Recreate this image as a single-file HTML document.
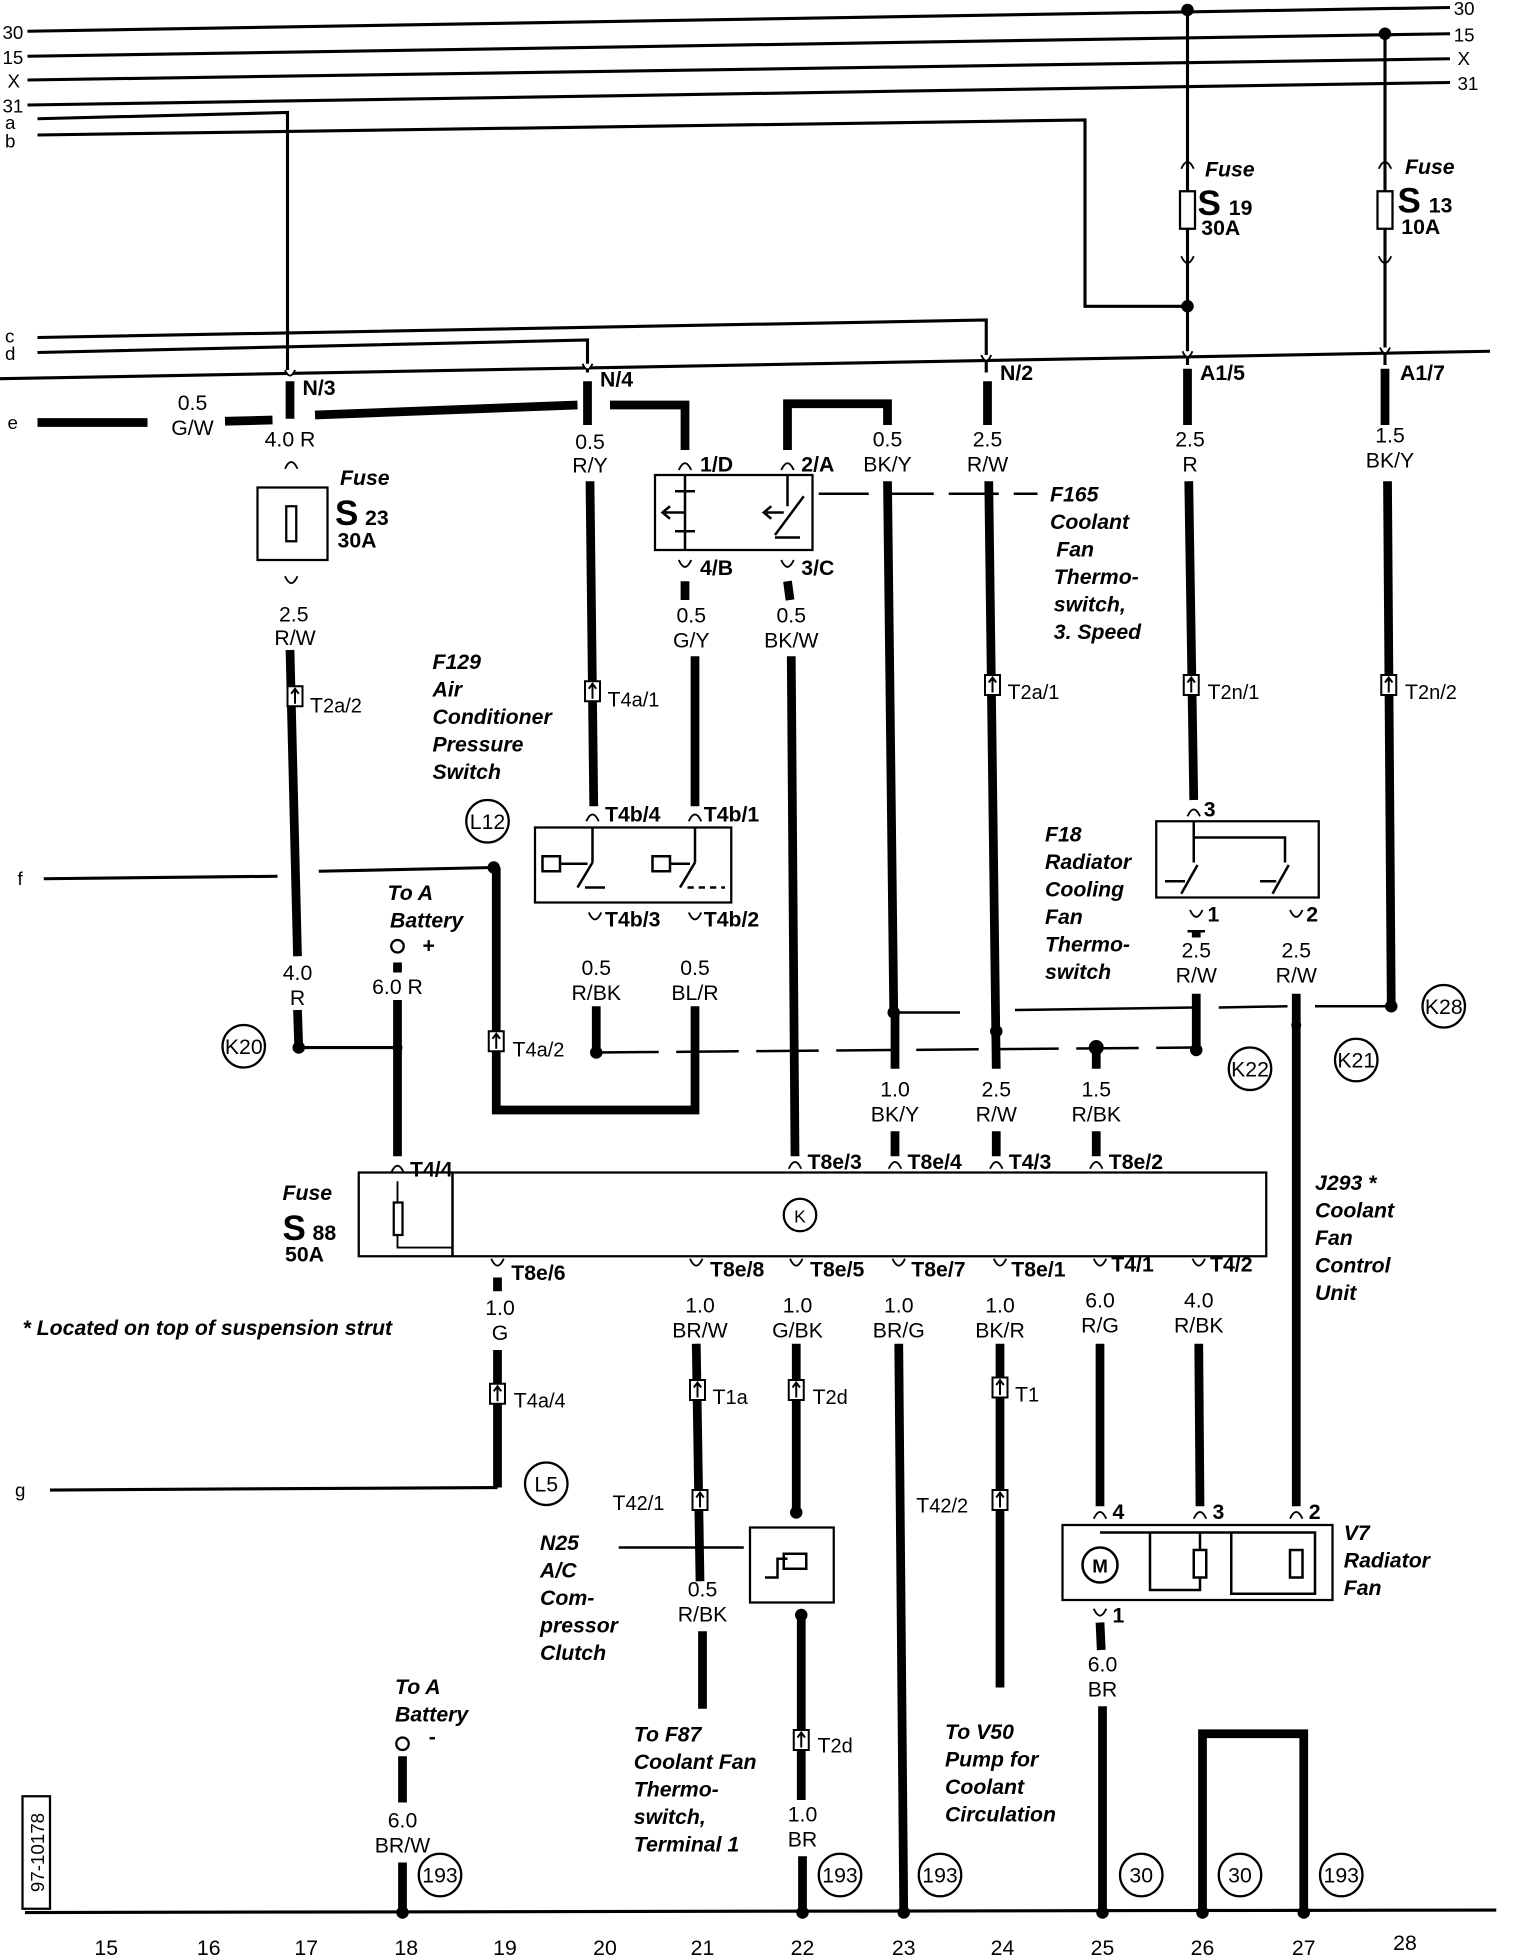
<!DOCTYPE html>
<html><head><meta charset="utf-8"><style>
html,body{margin:0;padding:0;background:#fff}
svg{display:block}
text{font-family:"Liberation Sans",sans-serif;font-size:17px;fill:#000}
.c{text-anchor:middle}
.i{font-style:italic;font-weight:bold;font-size:17px}
.b{font-weight:bold}
</style></head><body>
<svg width="1520" height="1956" viewBox="0 0 1216 1564.8" preserveAspectRatio="none" xmlns="http://www.w3.org/2000/svg">
<defs>
<g id="cn"><rect x="-6" y="-8" width="12" height="16" fill="#fff" stroke="#000" stroke-width="1.6"/><path d="M0,6 V-5 M-3,-2 L0,-6 L3,-2" stroke="#000" stroke-width="1.6" fill="none"/></g>
<g id="pin"><path d="M-4,-5 Q0,4 4,-5" stroke="#000" stroke-width="1.5" fill="#fff"/></g>
<g id="au"><path d="M-5,5 Q0,-6 5,5" stroke="#000" stroke-width="1.5" fill="none"/></g>
<g id="ad"><path d="M-5,-5 Q0,6 5,-5" stroke="#000" stroke-width="1.5" fill="none"/></g>
</defs>
<g stroke="#000" fill="none" stroke-width="2.5">
<!-- top bus -->
<line x1="22" y1="25" x2="1160" y2="6"/>
<line x1="22" y1="45" x2="1160" y2="27"/>
<line x1="22" y1="64" x2="1160" y2="47"/>
<line x1="22" y1="84" x2="1160" y2="66"/>
<polyline points="30,95 230,90 230,298"/>
<polyline points="30,108 868,96 868,245 950,245"/>
<line x1="950" y1="8" x2="950" y2="292"/>
<line x1="1108" y1="27" x2="1108" y2="292"/>
<polyline points="30,270 789,256 789,298"/>
<polyline points="30,282 470,272 470,298"/>
<line x1="0" y1="303" x2="1192" y2="281"/>
<!-- f,g -->
<line x1="35" y1="703" x2="222" y2="701"/>
<line x1="255" y1="697" x2="395" y2="694"/>
<line x1="40" y1="1192" x2="398" y2="1190"/>
<line x1="240" y1="838" x2="318" y2="838"/>
<line x1="20" y1="1530" x2="1197" y2="1528"/>
<!-- dashed / thin cross lines -->
<line x1="655" y1="395" x2="830" y2="395" stroke-dasharray="40,12" stroke-width="2"/>
<line x1="477" y1="842" x2="955" y2="838" stroke-dasharray="50,14" stroke-width="2"/>
<line x1="715" y1="810" x2="768" y2="810" stroke-width="2"/>
<line x1="812" y1="808" x2="955" y2="806" stroke-width="2"/>
<line x1="975" y1="806" x2="1030" y2="805" stroke-width="2"/>
<line x1="1052" y1="805" x2="1113" y2="805" stroke-width="2"/>
<line x1="495" y1="1238" x2="595" y2="1238" stroke-width="2"/>
</g>
<!-- thick wires -->
<g stroke="#000" fill="none" stroke-width="7">
<line x1="30" y1="338" x2="118" y2="338"/>
<line x1="180" y1="337" x2="218" y2="336"/>
<line x1="252" y1="332" x2="462" y2="324"/>
<polyline points="488,324 548,324 548,360"/>
<polyline points="630,360 630,323 710,323 710,340"/>
<line x1="232" y1="305" x2="232" y2="335"/>
<line x1="232" y1="520" x2="238" y2="765"/>
<line x1="238" y1="808" x2="239" y2="838"/>
<line x1="470" y1="305" x2="470" y2="340"/>
<line x1="472" y1="385" x2="475" y2="645"/>
<line x1="548" y1="465" x2="548" y2="480"/>
<line x1="556" y1="525" x2="556" y2="645"/>
<line x1="630" y1="465" x2="632" y2="480"/>
<line x1="633" y1="525" x2="636" y2="925"/>
<line x1="710" y1="385" x2="715" y2="810"/>
<line x1="716" y1="810" x2="716" y2="855"/>
<line x1="716" y1="905" x2="716" y2="925"/>
<line x1="790" y1="305" x2="790" y2="340"/>
<line x1="791" y1="385" x2="797" y2="855"/>
<line x1="797" y1="905" x2="797" y2="925"/>
<line x1="877" y1="838" x2="877" y2="855"/>
<line x1="877" y1="905" x2="877" y2="925"/>
<line x1="950" y1="295" x2="950" y2="340"/>
<line x1="951" y1="385" x2="955" y2="640"/>
<line x1="957" y1="745" x2="957" y2="750"/>
<line x1="957" y1="795" x2="957" y2="840"/>
<line x1="1037" y1="795" x2="1037" y2="1205"/>
<line x1="1108" y1="295" x2="1108" y2="340"/>
<line x1="1110" y1="385" x2="1113" y2="805"/>
<line x1="477" y1="805" x2="477" y2="842"/>
<polyline points="556,805 556,888 397,888 397,694"/>
<line x1="318" y1="770" x2="318" y2="778"/>
<line x1="318" y1="800" x2="318" y2="925"/>
<line x1="398" y1="1080" x2="398" y2="1190"/>
<line x1="398" y1="1022" x2="398" y2="1033"/>
<line x1="557" y1="1075" x2="560" y2="1265"/>
<line x1="562" y1="1305" x2="562" y2="1367"/>
<line x1="637" y1="1075" x2="637" y2="1210"/>
<line x1="641" y1="1292" x2="641" y2="1440"/>
<line x1="642" y1="1485" x2="642" y2="1530"/>
<line x1="719" y1="1075" x2="723" y2="1530"/>
<line x1="800" y1="1075" x2="800" y2="1350"/>
<line x1="880" y1="1075" x2="880" y2="1205"/>
<line x1="880" y1="1298" x2="881" y2="1320"/>
<line x1="882" y1="1365" x2="882" y2="1530"/>
<line x1="959" y1="1075" x2="960" y2="1205"/>
<line x1="322" y1="1405" x2="322" y2="1442"/>
<line x1="322" y1="1490" x2="322" y2="1530"/>
<polyline points="962,1530 962,1387 1043,1387 1043,1530"/>
</g>
<!-- dots -->
<g fill="#000">
<circle cx="950" cy="8" r="5"/><circle cx="1108" cy="27" r="5"/><circle cx="950" cy="245" r="5"/>
<circle cx="395" cy="694" r="5"/><circle cx="239" cy="838" r="5"/><circle cx="318" cy="838" r="4"/>
<circle cx="477" cy="842" r="5"/><circle cx="715" cy="810" r="5"/><circle cx="797" cy="825" r="5"/>
<circle cx="877" cy="838" r="6"/><circle cx="957" cy="840" r="5"/><circle cx="1037" cy="820" r="4"/>
<circle cx="1113" cy="805" r="5"/><circle cx="637" cy="1210" r="5"/><circle cx="641" cy="1292" r="5"/>
<circle cx="322" cy="1530" r="5"/><circle cx="642" cy="1530" r="5"/><circle cx="723" cy="1530" r="5"/>
<circle cx="882" cy="1530" r="5"/><circle cx="962" cy="1530" r="5"/><circle cx="1043" cy="1530" r="5"/>
<circle cx="880" cy="1226" r="3"/><circle cx="960" cy="1226" r="3"/>
</g>
<!-- pins on connector -->
<use href="#pin" x="232" y="301"/><use href="#pin" x="470" y="296"/><use href="#pin" x="789" y="289"/>
<use href="#pin" x="950" y="286"/><use href="#pin" x="1108" y="283"/>
<!-- fuses -->
<g stroke="#000" fill="#fff" stroke-width="1.8">
<rect x="944" y="153" width="12" height="30"/><rect x="1102" y="153" width="12" height="30"/>
<rect x="206" y="390" width="56" height="58"/><rect x="229" y="405" width="8" height="28"/>
<rect x="524" y="380" width="126" height="60"/>
<rect x="428" y="662" width="157" height="60"/>
<rect x="925" y="657" width="130" height="61"/>
<rect x="287" y="938" width="726" height="67"/>
<rect x="600" y="1222" width="67" height="60"/>
<rect x="850" y="1220" width="216" height="60"/>
<rect x="315" y="962" width="7" height="26"/>
<circle cx="318" cy="757" r="5"/><circle cx="322" cy="1395" r="5"/>
</g>
<line x1="362" y1="938" x2="362" y2="1005" stroke="#000" stroke-width="2"/>
<polyline points="318,945 318,962 M318,988" stroke="#000" fill="none" stroke-width="1.5"/>
<polyline points="318,988 318,998 362,998" stroke="#000" fill="none" stroke-width="1.5"/>
<use href="#au" x="950" y="130"/><use href="#ad" x="950" y="210"/>
<use href="#au" x="1108" y="130"/><use href="#ad" x="1108" y="210"/>
<use href="#au" x="233" y="370"/><use href="#ad" x="233" y="466"/>
<use href="#au" x="548" y="371"/><use href="#au" x="630" y="371"/>
<use href="#ad" x="548" y="453"/><use href="#ad" x="630" y="453"/>
<use href="#au" x="474" y="652"/><use href="#au" x="556" y="652"/>
<use href="#ad" x="476" y="735"/><use href="#ad" x="556" y="735"/>
<use href="#au" x="955" y="648"/><use href="#ad" x="957" y="733"/><use href="#ad" x="1037" y="733"/>
<use href="#au" x="636" y="930"/><use href="#au" x="716" y="930"/><use href="#au" x="797" y="930"/><use href="#au" x="877" y="930"/><use href="#au" x="318" y="933"/>
<use href="#ad" x="398" y="1012"/><use href="#ad" x="557" y="1012"/><use href="#ad" x="637" y="1012"/><use href="#ad" x="719" y="1012"/><use href="#ad" x="800" y="1012"/><use href="#ad" x="880" y="1012"/><use href="#ad" x="959" y="1012"/>
<use href="#au" x="880" y="1210"/><use href="#au" x="960" y="1210"/><use href="#au" x="1037" y="1210"/><use href="#ad" x="880" y="1292"/>
<!-- switch internals (simplified) -->
<g stroke="#000" fill="none" stroke-width="2">
<line x1="548" y1="380" x2="548" y2="440"/><line x1="630" y1="380" x2="630" y2="405"/><line x1="620" y1="428" x2="643" y2="397"/>
<line x1="620" y1="430" x2="640" y2="430"/><line x1="540" y1="393" x2="556" y2="393"/><line x1="540" y1="425" x2="556" y2="425"/>
<path d="M548,410 H532 M536,405 L530,410 L536,415"/><path d="M627,410 H613 M617,405 L611,410 L617,415"/>
<line x1="474" y1="662" x2="474" y2="690"/><line x1="474" y1="690" x2="462" y2="710"/><line x1="556" y1="662" x2="556" y2="690"/><line x1="556" y1="690" x2="544" y2="710"/>
<rect x="434" y="685" width="14" height="12"/><rect x="522" y="685" width="14" height="12"/>
<line x1="448" y1="691" x2="470" y2="691"/><line x1="536" y1="691" x2="552" y2="691"/>
<line x1="468" y1="710" x2="484" y2="710"/><line x1="550" y1="710" x2="580" y2="710" stroke-dasharray="5,4"/>
<polyline points="955,657 955,690"/><polyline points="955,670 1028,670 1028,690"/>
<line x1="958" y1="692" x2="945" y2="715"/><line x1="1031" y1="692" x2="1018" y2="715"/>
<line x1="948" y1="705" x2="932" y2="705"/><line x1="1021" y1="705" x2="1008" y2="705"/>
<line x1="950" y1="745" x2="964" y2="745"/>
<circle cx="880" cy="1252" r="14" fill="#fff"/>
<polyline points="880,1226 1052,1226 1052,1275 985,1275 985,1226"/>
<polyline points="960,1226 960,1240"/><rect x="955" y="1240" width="10" height="22"/><polyline points="960,1262 960,1272 920,1272 920,1226"/>
<rect x="1032" y="1240" width="10" height="22"/>
<rect x="627" y="1243" width="18" height="12"/><path d="M612,1262 h10 v-15 h8"/>
</g>
<text x="880" y="1258" class="c b" style="font-size:15px">M</text>
<!-- connectors -->
<use href="#cn" x="236" y="557"/><use href="#cn" x="474" y="553"/><use href="#cn" x="794" y="548"/><use href="#cn" x="953" y="548"/><use href="#cn" x="1111" y="548"/>
<use href="#cn" x="397" y="833"/><use href="#cn" x="398" y="1115"/><use href="#cn" x="558" y="1112"/><use href="#cn" x="637" y="1112"/><use href="#cn" x="800" y="1110"/>
<use href="#cn" x="560" y="1200"/><use href="#cn" x="800" y="1200"/><use href="#cn" x="641" y="1392"/>
<!-- circles -->
<g stroke="#000" fill="#fff" stroke-width="1.8">
<circle cx="390" cy="657" r="17"/><circle cx="195" cy="837" r="17"/><circle cx="1000" cy="855" r="17"/><circle cx="1085" cy="848" r="17"/><circle cx="1155" cy="805" r="17"/>
<circle cx="640" cy="972" r="13"/><circle cx="437" cy="1187" r="17"/>
<circle cx="352" cy="1500" r="17"/><circle cx="672" cy="1500" r="17"/><circle cx="752" cy="1500" r="17"/><circle cx="913" cy="1500" r="17"/><circle cx="992" cy="1500" r="17"/><circle cx="1073" cy="1500" r="17"/>
<rect x="18" y="1437" width="22" height="90"/>
</g>
<g style="font-size:15px" class="c">
<text x="390" y="663">L12</text><text x="195" y="843">K20</text><text x="1000" y="861">K22</text><text x="1085" y="854">K21</text><text x="1155" y="811">K28</text>
<text x="640" y="978" style="font-size:14px">K</text><text x="437" y="1193">L5</text>
<text x="352" y="1506">193</text><text x="672" y="1506">193</text><text x="752" y="1506">193</text><text x="913" y="1506">30</text><text x="992" y="1506">30</text><text x="1073" y="1506">193</text>
</g>
<text transform="translate(35,1482) rotate(-90)" class="c" style="font-size:15px">97-10178</text>
<!-- bus labels -->
<text x="2" y="31" style="font-size:15px">30</text><text x="2" y="51" style="font-size:15px">15</text><text x="6" y="70" style="font-size:15px">X</text><text x="2" y="90" style="font-size:15px">31</text><text x="4" y="103" style="font-size:15px">a</text><text x="4" y="118" style="font-size:15px">b</text>
<text x="1163" y="12" style="font-size:15px">30</text><text x="1163" y="33" style="font-size:15px">15</text><text x="1166" y="52" style="font-size:15px">X</text><text x="1166" y="72" style="font-size:15px">31</text>
<text x="4" y="274" style="font-size:15px">c</text><text x="4" y="288" style="font-size:15px">d</text><text x="6" y="343" style="font-size:15px">e</text><text x="14" y="708" style="font-size:15px">f</text><text x="12" y="1197" style="font-size:15px">g</text>
<!-- fuse labels -->
<text x="964" y="141" class="i">Fuse</text><text x="958" y="172" class="b" style="font-size:28px">S</text><text x="983" y="172" class="b">19</text><text x="961" y="188" class="b">30A</text>
<text x="1124" y="139" class="i">Fuse</text><text x="1118" y="170" class="b" style="font-size:28px">S</text><text x="1143" y="170" class="b">13</text><text x="1121" y="187" class="b">10A</text>
<text x="272" y="388" class="i">Fuse</text><text x="268" y="420" class="b" style="font-size:28px">S</text><text x="292" y="420" class="b">23</text><text x="270" y="438" class="b">30A</text>
<text x="226" y="960" class="i">Fuse</text><text x="226" y="992" class="b" style="font-size:28px">S</text><text x="250" y="992" class="b">88</text><text x="228" y="1009" class="b">50A</text>
<!-- pin labels -->
<g class="b" style="font-size:16px">
<text x="242" y="316">N/3</text><text x="480" y="309">N/4</text><text x="800" y="304">N/2</text><text x="960" y="304">A1/5</text><text x="1120" y="304">A1/7</text>
<text x="560" y="377">1/D</text><text x="641" y="377">2/A</text><text x="560" y="460">4/B</text><text x="641" y="460">3/C</text>
<text x="484" y="657">T4b/4</text><text x="563" y="657">T4b/1</text><text x="484" y="741">T4b/3</text><text x="563" y="741">T4b/2</text>
<text x="963" y="653">3</text><text x="966" y="737">1</text><text x="1045" y="737">2</text>
<text x="328" y="941">T4/4</text><text x="646" y="935">T8e/3</text><text x="726" y="935">T8e/4</text><text x="807" y="935">T4/3</text><text x="887" y="935">T8e/2</text>
<text x="409" y="1024">T8e/6</text><text x="568" y="1021">T8e/8</text><text x="648" y="1021">T8e/5</text><text x="729" y="1021">T8e/7</text><text x="809" y="1021">T8e/1</text><text x="889" y="1017">T4/1</text><text x="968" y="1017">T4/2</text>
<text x="890" y="1215">4</text><text x="970" y="1215">3</text><text x="1047" y="1215">2</text><text x="890" y="1298">1</text>
</g>
<g style="font-size:21px">
<text x="248" y="570">T<tspan style="font-size:16px">2a/2</tspan></text>
<text x="486" y="565">T<tspan style="font-size:16px">4a/1</tspan></text>
<text x="806" y="559">T<tspan style="font-size:16px">2a/1</tspan></text>
<text x="966" y="559">T<tspan style="font-size:16px">2n/1</tspan></text>
<text x="1124" y="559">T<tspan style="font-size:16px">2n/2</tspan></text>
<text x="410" y="845">T<tspan style="font-size:16px">4a/2</tspan></text>
<text x="411" y="1126">T<tspan style="font-size:16px">4a/4</tspan></text>
<text x="570" y="1123">T<tspan style="font-size:16px">1a</tspan></text>
<text x="650" y="1123">T<tspan style="font-size:16px">2d</tspan></text>
<text x="812" y="1121">T<tspan style="font-size:16px">1</tspan></text>
<text x="654" y="1402">T<tspan style="font-size:16px">2d</tspan></text>
<text x="490" y="1208">T<tspan style="font-size:16px">42/1</tspan></text>
<text x="733" y="1210">T<tspan style="font-size:16px">42/2</tspan></text>
</g>
<!-- wire labels -->
<g class="c">
<text x="154" y="328">0.5</text><text x="154" y="348">G/W</text>
<text x="232" y="357">4.0 R</text>
<text x="235" y="497">2.5</text><text x="236" y="516">R/W</text>
<text x="472" y="359">0.5</text><text x="472" y="378">R/Y</text>
<text x="553" y="498">0.5</text><text x="553" y="518">G/Y</text>
<text x="633" y="498">0.5</text><text x="633" y="518">BK/W</text>
<text x="710" y="357">0.5</text><text x="710" y="377">BK/Y</text>
<text x="790" y="357">2.5</text><text x="790" y="377">R/W</text>
<text x="952" y="357">2.5</text><text x="952" y="377">R</text>
<text x="1112" y="354">1.5</text><text x="1112" y="374">BK/Y</text>
<text x="477" y="780">0.5</text><text x="477" y="800">R/BK</text>
<text x="556" y="780">0.5</text><text x="556" y="800">BL/R</text>
<text x="957" y="766">2.5</text><text x="957" y="786">R/W</text>
<text x="1037" y="766">2.5</text><text x="1037" y="786">R/W</text>
<text x="238" y="784">4.0</text><text x="238" y="804">R</text>
<text x="318" y="795">6.0 R</text>
<text x="716" y="877">1.0</text><text x="716" y="897">BK/Y</text>
<text x="797" y="877">2.5</text><text x="797" y="897">R/W</text>
<text x="877" y="877">1.5</text><text x="877" y="897">R/BK</text>
<text x="400" y="1052">1.0</text><text x="400" y="1072">G</text>
<text x="560" y="1050">1.0</text><text x="560" y="1070">BR/W</text>
<text x="638" y="1050">1.0</text><text x="638" y="1070">G/BK</text>
<text x="719" y="1050">1.0</text><text x="719" y="1070">BR/G</text>
<text x="800" y="1050">1.0</text><text x="800" y="1070">BK/R</text>
<text x="880" y="1046">6.0</text><text x="880" y="1066">R/G</text>
<text x="959" y="1046">4.0</text><text x="959" y="1066">R/BK</text>
<text x="562" y="1277">0.5</text><text x="562" y="1297">R/BK</text>
<text x="882" y="1337">6.0</text><text x="882" y="1357">BR</text>
<text x="642" y="1457">1.0</text><text x="642" y="1477">BR</text>
<text x="322" y="1462">6.0</text><text x="322" y="1482">BR/W</text>
</g>
<!-- component labels -->
<g class="i">
<text x="840" y="401">F165</text><text x="840" y="423">Coolant</text><text x="845" y="445">Fan</text><text x="843" y="467">Thermo-</text><text x="843" y="489">switch,</text><text x="843" y="511">3. Speed</text>
<text x="346" y="535">F129</text><text x="346" y="557">Air</text><text x="346" y="579">Conditioner</text><text x="346" y="601">Pressure</text><text x="346" y="623">Switch</text>
<text x="836" y="673">F18</text><text x="836" y="695">Radiator</text><text x="836" y="717">Cooling</text><text x="836" y="739">Fan</text><text x="836" y="761">Thermo-</text><text x="836" y="783">switch</text>
<text x="310" y="720">To A</text><text x="312" y="742">Battery</text><text x="338" y="762" style="font-weight:bold;font-style:normal">+</text>
<text x="1052" y="952">J293 *</text><text x="1052" y="974">Coolant</text><text x="1052" y="996">Fan</text><text x="1052" y="1018">Control</text><text x="1052" y="1040">Unit</text>
<text x="18" y="1068">*  Located on top of suspension strut</text>
<text x="432" y="1240">N25</text><text x="432" y="1262">A/C</text><text x="432" y="1284">Com-</text><text x="432" y="1306">pressor</text><text x="432" y="1328">Clutch</text>
<text x="1075" y="1232">V7</text><text x="1075" y="1254">Radiator</text><text x="1075" y="1276">Fan</text>
<text x="316" y="1355">To A</text><text x="316" y="1377">Battery</text><text x="343" y="1395" style="font-weight:bold;font-style:normal">-</text>
<text x="507" y="1393">To F87</text><text x="507" y="1415">Coolant Fan</text><text x="507" y="1437">Thermo-</text><text x="507" y="1459">switch,</text><text x="507" y="1481">Terminal 1</text>
<text x="756" y="1391">To V50</text><text x="756" y="1413">Pump for</text><text x="756" y="1435">Coolant</text><text x="756" y="1457">Circulation</text>
</g>
<g class="c">
<text x="85" y="1564">15</text><text x="167" y="1564">16</text><text x="245" y="1564">17</text><text x="325" y="1564">18</text><text x="404" y="1564">19</text><text x="484" y="1564">20</text><text x="562" y="1564">21</text><text x="642" y="1564">22</text><text x="723" y="1564">23</text><text x="802" y="1564">24</text><text x="882" y="1564">25</text><text x="962" y="1564">26</text><text x="1043" y="1564">27</text><text x="1124" y="1560">28</text>
</g>
</svg>
</body></html>
